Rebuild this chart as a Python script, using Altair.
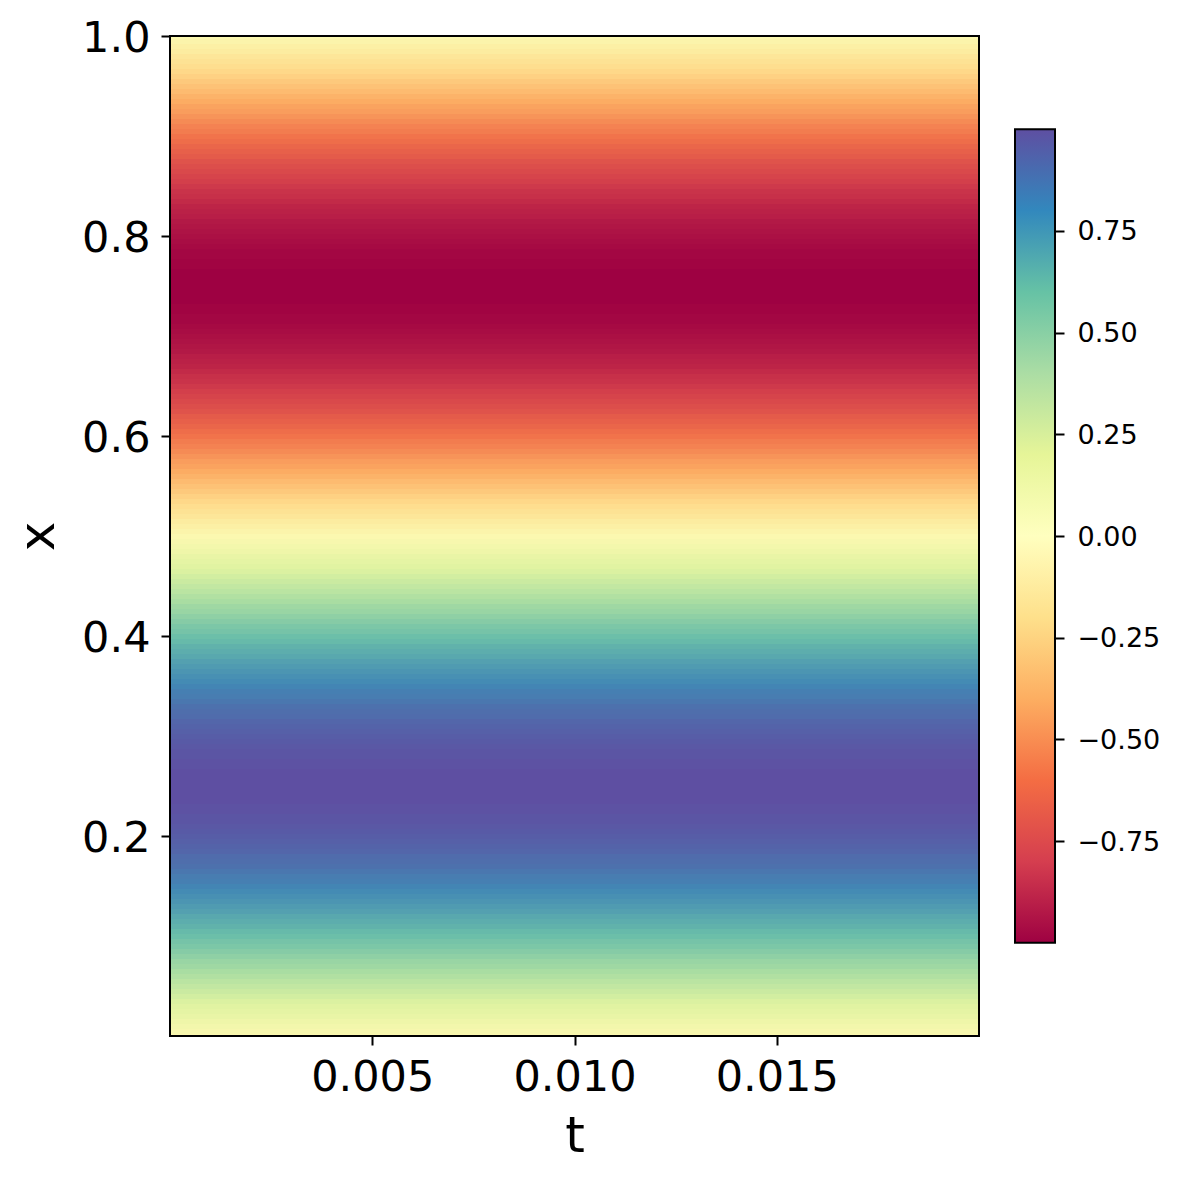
import altair as alt
import numpy as np
import pandas as pd

# ---- data -----------------------------------------------------------------
# spatial grid x (rows of the heatmap, step 0.005) and time extent t
x_grid = np.round(np.linspace(0.0, 1.0, 201), 3)
t_range = [0.0, 0.02]
# value u along x (approximately constant in t)
u_vals = [
    0.00, 0.03, 0.06, 0.09, 0.13, 0.16, 0.19, 0.22, 0.25, 0.28,
    0.31, 0.34, 0.37, 0.40, 0.43, 0.45, 0.48, 0.51, 0.54, 0.56,
    0.59, 0.61, 0.64, 0.66, 0.68, 0.71, 0.73, 0.75, 0.77, 0.79,
    0.81, 0.83, 0.84, 0.86, 0.88, 0.89, 0.90, 0.92, 0.93, 0.94,
    0.95, 0.96, 0.97, 0.98, 0.98, 0.99, 0.99, 1.00, 1.00, 1.00,
    1.00,
    1.00, 1.00, 1.00, 0.99, 0.99, 0.98, 0.98, 0.97, 0.96, 0.95,
    0.94, 0.93, 0.92, 0.90, 0.89, 0.88, 0.86, 0.84, 0.83, 0.81,
    0.79, 0.77, 0.75, 0.73, 0.71, 0.68, 0.66, 0.64, 0.61, 0.59,
    0.56, 0.54, 0.51, 0.48, 0.45, 0.43, 0.40, 0.37, 0.34, 0.31,
    0.28, 0.25, 0.22, 0.19, 0.16, 0.13, 0.09, 0.06, 0.03, 0.00,
    -0.03, -0.06, -0.09, -0.13, -0.16, -0.19, -0.22, -0.25, -0.28, -0.31,
    -0.34, -0.37, -0.40, -0.43, -0.45, -0.48, -0.51, -0.54, -0.56, -0.59,
    -0.61, -0.64, -0.66, -0.68, -0.71, -0.73, -0.75, -0.77, -0.79, -0.81,
    -0.83, -0.84, -0.86, -0.88, -0.89, -0.90, -0.92, -0.93, -0.94, -0.95,
    -0.96, -0.97, -0.98, -0.98, -0.99, -0.99, -1.00, -1.00, -1.00, -1.00,
    -1.00, -1.00, -1.00, -0.99, -0.99, -0.98, -0.98, -0.97, -0.96, -0.95,
    -0.94, -0.93, -0.92, -0.90, -0.89, -0.88, -0.86, -0.84, -0.83, -0.81,
    -0.79, -0.77, -0.75, -0.73, -0.71, -0.68, -0.66, -0.64, -0.61, -0.59,
    -0.56, -0.54, -0.51, -0.48, -0.45, -0.43, -0.40, -0.37, -0.34, -0.31,
    -0.28, -0.25, -0.22, -0.19, -0.16, -0.13, -0.09, -0.06, -0.03, 0.00,
]
x_ticks = [0.005, 0.010, 0.015]
y_ticks = [0.2, 0.4, 0.6, 0.8, 1.0]
cbar_ticks = [-0.75, -0.5, -0.25, 0.0, 0.25, 0.5, 0.75]
cbar_range = [-1.0, 1.0]

spectral = ['#9e0142', '#d53e4f', '#f46d43', '#fdae61', '#fee08b', '#ffffbf',
            '#e6f598', '#abdda4', '#66c2a5', '#3288bd', '#5e4fa2']

FONT = "DejaVu Sans"
half = 0.0025
df = pd.DataFrame({"x": x_grid, "u": u_vals})
df["y0"] = df["x"] - half
df["y1"] = df["x"] + half
df["t0"] = t_range[0]
df["t1"] = t_range[1]

frame_df = pd.DataFrame({"t0": [t_range[0]], "t1": [t_range[1]], "y0": [0.0], "y1": [1.0]})

color_scale = alt.Scale(scheme="spectral", domain=cbar_range)
xscale = alt.Scale(domain=t_range, nice=False, zero=False)
yscale = alt.Scale(domain=[0, 1], nice=False, zero=False)

x_axis = alt.Axis(values=x_ticks, format=".3f", title="t", labelFontSize=43,
                  titleFontSize=50, titleFontWeight="normal", tickSize=9, tickWidth=2,
                  tickColor="black", labelColor="black", titleColor="black",
                  labelPadding=11, titlePadding=12, domain=False, grid=False,
                  labelFont=FONT, titleFont=FONT)
y_axis = alt.Axis(values=y_ticks, format=".1f", title="x", labelFontSize=43,
                  titleFontSize=50, titleFontWeight="normal", tickSize=9, tickWidth=2,
                  tickColor="black", labelColor="black", titleColor="black",
                  labelPadding=11, labelOffset=2, titlePadding=18, domain=False, grid=False,
                  labelFont=FONT, titleFont=FONT)

heat = alt.Chart(df).mark_rect(clip=True, strokeWidth=1).encode(
    x=alt.X("t0:Q", scale=xscale, axis=x_axis),
    x2="t1:Q",
    y=alt.Y("y0:Q", scale=yscale, axis=y_axis),
    y2="y1:Q",
    color=alt.Color("u:Q", scale=color_scale, legend=None),
    stroke=alt.Stroke("u:Q", scale=color_scale, legend=None),
)

frame = alt.Chart(frame_df).mark_rect(fillOpacity=0, stroke="black", strokeWidth=2).encode(
    x=alt.X("t0:Q", scale=xscale),
    x2="t1:Q",
    y=alt.Y("y0:Q", scale=yscale),
    y2="y1:Q",
)

main = alt.layer(heat, frame).properties(width=809, height=1000)

# ---- colorbar ---------------------------------------------------------------
cb_df = pd.DataFrame({"lo": [cbar_range[0]], "hi": [cbar_range[1]]})
grad = alt.LinearGradient(
    gradient="linear",
    stops=[alt.GradientStop(color=c, offset=i / (len(spectral) - 1)) for i, c in enumerate(spectral)],
    x1=0, x2=0, y1=1, y2=0,
)
cb_axis = alt.Axis(orient="right", values=cbar_ticks,
                   labelExpr="replace(format(datum.value, '.2f'), '-', '\u2212')",
                   labelFontSize=27, tickSize=9, tickWidth=2, tickColor="black",
                   labelColor="black", labelPadding=13, labelOffset=1, domain=False, grid=False,
                   title=None, labelFont=FONT)
cbar = alt.Chart(cb_df).mark_rect(color=grad, stroke="black", strokeWidth=2).encode(
    y=alt.Y("lo:Q", scale=alt.Scale(domain=[-1.229, 1.229], nice=False, zero=False), axis=cb_axis),
    y2="hi:Q",
    x=alt.value(0),
    x2=alt.value(40),
).properties(width=40, height=1000, view=alt.ViewBackground(stroke="transparent"))

chart = alt.hconcat(main, cbar, spacing=32).properties(
    padding={"left": 5, "top": 8, "right": 5, "bottom": 5}
).configure(font=FONT).configure_view(
    stroke="transparent"
)

chart.save("out.html", embed_options={"renderer": "svg", "actions": False})
